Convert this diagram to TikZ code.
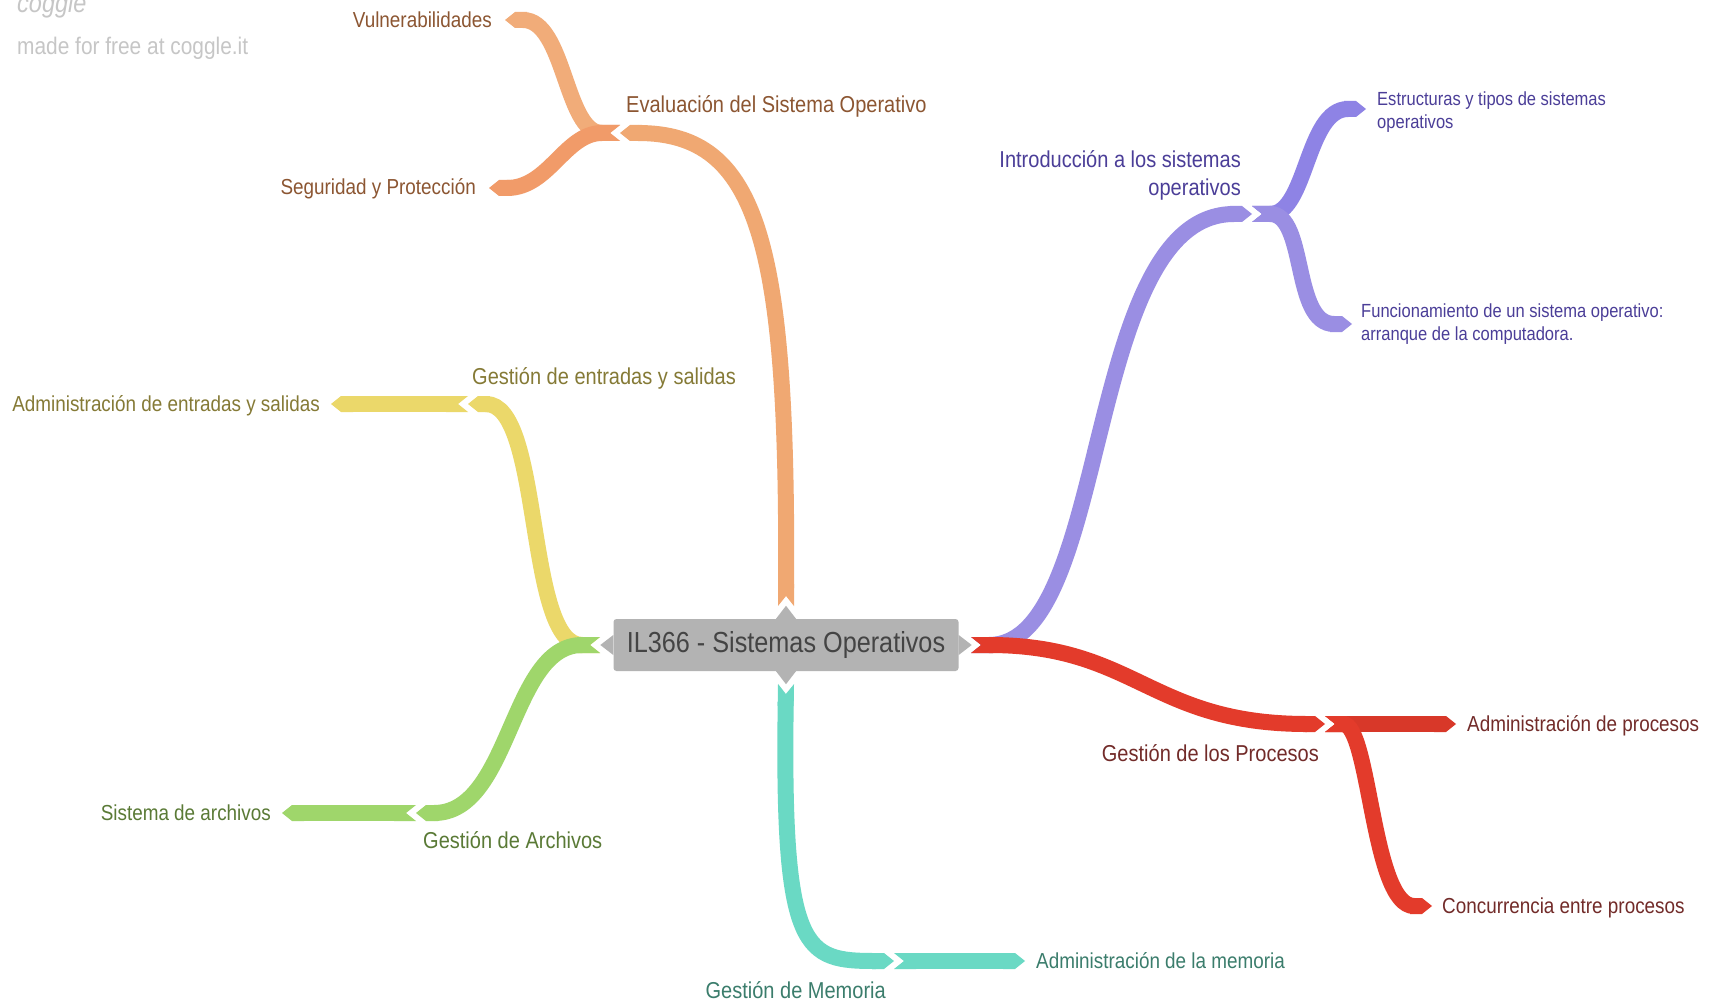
\documentclass[tikz,border=0pt]{standalone}
\usepackage{fontspec}
\setmainfont{Liberation Sans}[FakeStretch=0.87]
\usetikzlibrary{arrows.meta,positioning}

\definecolor{rootgray}{HTML}{B3B3B3}
\definecolor{roottext}{HTML}{444444}
\definecolor{markgray}{HTML}{C6C6C6}
\definecolor{evalbr}{HTML}{F0A872}
\definecolor{evaltx}{HTML}{8C5632}
\definecolor{introbr}{HTML}{9A8EE3}
\definecolor{introtx}{HTML}{4B3E98}
\definecolor{procbr}{HTML}{E33B2B}
\definecolor{proctx}{HTML}{722B29}
\definecolor{iobr}{HTML}{EBD86A}
\definecolor{iotx}{HTML}{857A36}
\definecolor{archbr}{HTML}{9FD66B}
\definecolor{archtx}{HTML}{5A7A36}
\definecolor{membr}{HTML}{6AD9C4}
\definecolor{memtx}{HTML}{3B7D6C}

\begin{document}
\begin{tikzpicture}[
    x=1pt, y=-1pt,
    root/.style={fill=rootgray, text=roottext, rounded corners=3pt,
                 minimum width=345pt, minimum height=52pt, inner sep=0pt,
                 font=\fontsize{29}{32}\selectfont},
    topic/.style={inner sep=0pt, font=\fontsize{23}{28}\selectfont},
    leaf/.style={inner sep=0pt, font=\fontsize{21.7}{26}\selectfont},
    subleaf/.style={inner sep=0pt, align=left, font=\fontsize{19}{23}\selectfont},
    branch/.style={line width=16pt,
                   {Triangle Cap[reversed,length=10pt]}-{Triangle Cap[length=10pt]}},
    bar/.style={branch},
    watermark/.style={inner sep=0pt, text=markgray}
]
\useasboundingbox[fill=white] (0,0) rectangle (1713,1003);

\node[watermark, anchor=base west, font=\fontsize{27}{30}\selectfont\itshape] (logo) at (17,13) {coggle};
\node[watermark, anchor=base west, font=\fontsize{24}{28}\selectfont] (made) at (17,55) {made for free at coggle.it};

\node[root] (root) at (786,645) {IL366 - Sistemas Operativos};
\fill[rootgray] (root.north) ++(-10,0) -- ++(10,-13) -- ++(10,13) -- cycle;
\fill[rootgray] (root.south) ++(-10,0) -- ++(10,13) -- ++(10,-13) -- cycle;
\fill[rootgray] (root.west) ++(0,-10) -- ++(-13,10) -- ++(13,10) -- cycle;
\fill[rootgray] (root.east) ++(0,-10) -- ++(13,10) -- ++(-13,10) -- cycle;

\coordinate (rootN) at (786,606);
\coordinate (rootS) at (786,684);
\coordinate (rootW) at (600,645);
\coordinate (rootE) at (971,645);

\coordinate (evalJ) at (620,133);
\coordinate (introJ) at (1252,214);
\coordinate (procJ) at (1325,724);
\coordinate (ioJ) at (468,404);
\coordinate (archJ) at (416,813);
\coordinate (memJ) at (894,961);

\coordinate (vulnT) at (505,20);
\coordinate (segT) at (489,188);
\coordinate (estT) at (1366,109);
\coordinate (funT) at (1352,324);
\coordinate (procAT) at (1456,724);
\coordinate (concT) at (1432,906);
\coordinate (ioT) at (331,404);
\coordinate (archT) at (282,813);
\coordinate (memT) at (1025,961);

\draw[branch, evalbr] (rootN) .. controls +(2,-360) and +(140,0) .. (evalJ);
\draw[branch, evalbr!95!white] (evalJ) .. controls +(-55,0) and +(60,0) .. (vulnT);
\draw[branch, evalbr!92!red] (evalJ) .. controls +(-55,0) and +(60,0) .. (segT);

\draw[branch, introbr] (rootE) .. controls +(141,0) and +(-170,0) .. (introJ);
\draw[branch, introbr!92!blue] (introJ) .. controls +(55,0) and +(-60,0) .. (estT);
\draw[branch, introbr] (introJ) .. controls +(55,0) and +(-60,0) .. (funT);

\draw[branch, procbr] (rootE) .. controls +(165,0) and +(-175,0) .. (procJ);
\draw[bar, procbr!95!black] (procJ) -- (procAT);
\draw[branch, procbr] (procJ) .. controls +(45,0) and +(-60,0) .. (concT);

\draw[branch, iobr] (rootW) .. controls +(-75,0) and +(75,0) .. (ioJ);
\draw[bar, iobr] (ioJ) -- (ioT);

\draw[branch, archbr] (rootW) .. controls +(-90,0) and +(95,0) .. (archJ);
\draw[bar, archbr] (archJ) -- (archT);

\draw[branch, membr] (rootS) .. controls +(-4,270) and +(-90,0) .. (memJ);
\draw[bar, membr] (memJ) -- (memT);

\node[topic, text=evaltx, above right=20pt and 6pt of evalJ, anchor=base west] (eval) {Evaluación del Sistema Operativo};
\node[leaf, text=evaltx, below left=8pt and 13pt of vulnT, anchor=base east] (vuln) {Vulnerabilidades};
\node[leaf, text=evaltx, below left=7pt and 13pt of segT, anchor=base east] (seg) {Seguridad y Protección};

\node[topic, text=introtx, align=right, above left=14pt and 11pt of introJ, anchor=south east] (intro) {Introducción a los sistemas\\operativos};
\node[subleaf, text=introtx, above right=17pt and 11pt of estT, anchor=north west] (est) {Estructuras y tipos de sistemas\\operativos};
\node[subleaf, text=introtx, above right=20pt and 9pt of funT, anchor=north west] (fun) {Funcionamiento de un sistema operativo:\\arranque de la computadora.};

\node[topic, text=proctx, below left=37pt and 6pt of procJ, anchor=base east] (proc) {Gestión de los Procesos};
\node[leaf, text=proctx, below right=7pt and 11pt of procAT, anchor=base west] (procA) {Administración de procesos};
\node[leaf, text=proctx, below right=7pt and 10pt of concT, anchor=base west] (conc) {Concurrencia entre procesos};

\node[topic, text=iotx, above right=20pt and 4pt of ioJ, anchor=base west] (io) {Gestión de entradas y salidas};
\node[leaf, text=iotx, below left=7pt and 11pt of ioT, anchor=base east] (ioA) {Administración de entradas y salidas};

\node[topic, text=archtx, below right=35pt and 7pt of archJ, anchor=base west] (arch) {Gestión de Archivos};
\node[leaf, text=archtx, below left=7pt and 11pt of archT, anchor=base east] (archA) {Sistema de archivos};

\node[topic, text=memtx, below left=37pt and 8pt of memJ, anchor=base east] (mem) {Gestión de Memoria};
\node[leaf, text=memtx, below right=7pt and 11pt of memT, anchor=base west] (memA) {Administración de la memoria};
\end{tikzpicture}
\end{document}
